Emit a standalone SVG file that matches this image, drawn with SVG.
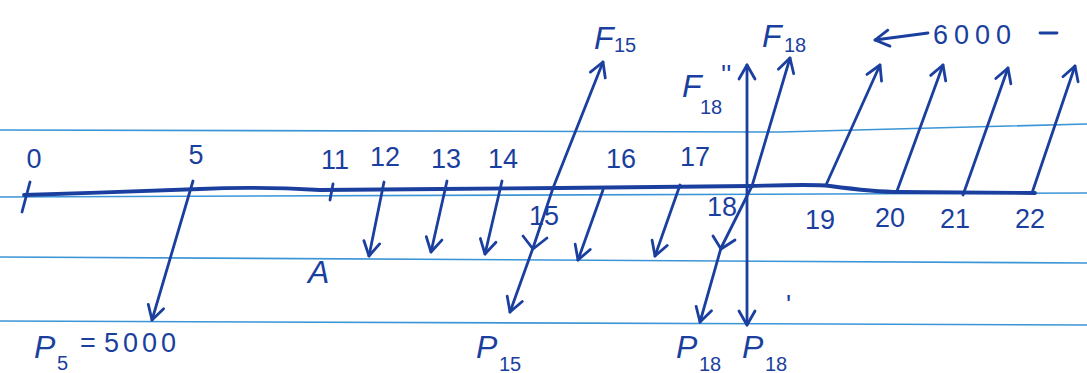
<svg xmlns="http://www.w3.org/2000/svg" width="1087" height="373" viewBox="0 0 1087 373">
  <defs>
    <style>
      .paper { fill: none; stroke: #3b95d6; stroke-width: 1.6; }
      .ink { fill: none; stroke: #1b3f9e; stroke-width: 2.8; stroke-linecap: round; stroke-linejoin: round; }
      .axis { fill: none; stroke: #1b3f9e; stroke-width: 3.8; stroke-linecap: round; }
      .num { font-family: "Liberation Sans", Arial, sans-serif; font-size: 27px; fill: #1b3f9e; }
      .lab { font-family: "Liberation Sans", Arial, sans-serif; font-size: 32px; font-style: italic; fill: #1b3f9e; }
      .sub { font-family: "Liberation Sans", Arial, sans-serif; font-size: 20px; fill: #1b3f9e; }
    </style>
    <marker id="head" viewBox="0 0 20 20" refX="17" refY="10" markerWidth="20" markerHeight="20" markerUnits="userSpaceOnUse" orient="auto-start-reverse">
      <path d="M3,2 L17,10 L3,18" fill="none" stroke="#1b3f9e" stroke-width="2.8" stroke-linecap="round" stroke-linejoin="round"/>
    </marker>
  </defs>
  <rect width="1087" height="373" fill="#ffffff"/>

  <g id="paper">
    <polyline class="paper" points="0,130 780,132 1087,124"/>
    <polyline class="paper" points="0,197 1087,193"/>
    <polyline class="paper" points="0,257 1087,263"/>
    <polyline class="paper" points="0,321 1087,325"/>
  </g>

  <g id="timeline">
    <path class="axis" d="M24,195 C80,193 150,191 200,189 C240,187 270,187 320,190 C400,190 480,188 560,188 C640,187 700,186 750,186 C790,185 815,184 830,186 C860,190 880,192 900,192 L1035,193"/>
    <line class="ink" x1="30" y1="182" x2="22" y2="212"/>
    <line class="ink" x1="333" y1="184" x2="330" y2="200"/>
  </g>

  <g id="connectors">
    <!-- down arrows -->
    <line class="ink" x1="193" y1="181" x2="152" y2="320" marker-end="url(#head)"/>
    <line class="ink" x1="384" y1="182" x2="369" y2="256" marker-end="url(#head)"/>
    <line class="ink" x1="447" y1="181" x2="431" y2="252" marker-end="url(#head)"/>
    <line class="ink" x1="502" y1="181" x2="485" y2="254" marker-end="url(#head)"/>
    <line class="ink" x1="603" y1="190" x2="578" y2="260" marker-end="url(#head)"/>
    <line class="ink" x1="680" y1="185" x2="655" y2="256" marker-end="url(#head)"/>
    <!-- F15 / P15 line -->
    <line class="ink" x1="553" y1="188" x2="603" y2="62" marker-end="url(#head)"/>
    <path class="ink" d="M553,188 L533,248 L510,312" marker-end="url(#head)"/>
    <path class="ink" d="M523,236 L533,249 L547,238"/>
    <!-- F18 / P18 line -->
    <line class="ink" x1="752" y1="186" x2="790" y2="58" marker-end="url(#head)"/>
    <path class="ink" d="M752,186 L721,248 L700,322" marker-end="url(#head)"/>
    <path class="ink" d="M713,236 L721,249 L735,240"/>
    <!-- vertical F18'' / P18' -->
    <line class="ink" x1="747" y1="65" x2="747" y2="325" marker-start="url(#head)" marker-end="url(#head)"/>
    <!-- up arrows 19..22 -->
    <line class="ink" x1="826" y1="185" x2="880" y2="65" marker-end="url(#head)"/>
    <line class="ink" x1="897" y1="191" x2="943" y2="65" marker-end="url(#head)"/>
    <line class="ink" x1="963" y1="195" x2="1008" y2="68" marker-end="url(#head)"/>
    <line class="ink" x1="1032" y1="193" x2="1075" y2="66" marker-end="url(#head)"/>
    <!-- 6000 arrow -->
    <line class="ink" x1="928" y1="33" x2="875" y2="40" marker-end="url(#head)"/>
    <line class="ink" x1="1040" y1="33" x2="1057" y2="33"/>
  </g>

  <g id="labels">
    <text class="num" x="34" y="168" text-anchor="middle">0</text>
    <text class="num" x="196" y="164" text-anchor="middle">5</text>
    <text class="num" x="335" y="169" text-anchor="middle">11</text>
    <text class="num" x="385" y="166" text-anchor="middle">12</text>
    <text class="num" x="446" y="168" text-anchor="middle">13</text>
    <text class="num" x="503" y="168" text-anchor="middle">14</text>
    <text class="num" x="621" y="168" text-anchor="middle">16</text>
    <text class="num" x="695" y="166" text-anchor="middle">17</text>
    <text class="num" x="544" y="225" text-anchor="middle">15</text>
    <text class="num" x="722" y="216" text-anchor="middle">18</text>
    <text class="num" x="820" y="229" text-anchor="middle">19</text>
    <text class="num" x="890" y="227" text-anchor="middle">20</text>
    <text class="num" x="955" y="228" text-anchor="middle">21</text>
    <text class="num" x="1030" y="228" text-anchor="middle">22</text>
    <text class="lab" x="308" y="283">A</text>

    <text class="lab" x="34" y="358">P</text>
    <text class="sub" x="57" y="370">5</text>
    <text class="num" x="80" y="352">=</text>
    <text class="num" x="104" y="352" font-size="30" letter-spacing="4">5000</text>

    <text class="lab" x="476" y="358">P</text>
    <text class="sub" x="499" y="371">15</text>

    <text class="lab" x="676" y="358">P</text>
    <text class="sub" x="699" y="371">18</text>

    <text class="lab" x="742" y="358">P</text>
    <text class="sub" x="765" y="371">18</text>
    <text class="num" x="786" y="314">'</text>

    <text class="lab" x="594" y="49">F</text>
    <text class="sub" x="614" y="52">15</text>

    <text class="lab" x="762" y="47">F</text>
    <text class="sub" x="784" y="52">18</text>

    <text class="lab" x="682" y="97">F</text>
    <text class="sub" x="700" y="114">18</text>
    <text class="num" x="721" y="84">''</text>

    <text class="num" x="933" y="44" font-size="30" letter-spacing="6">6000</text>
  </g>
</svg>
